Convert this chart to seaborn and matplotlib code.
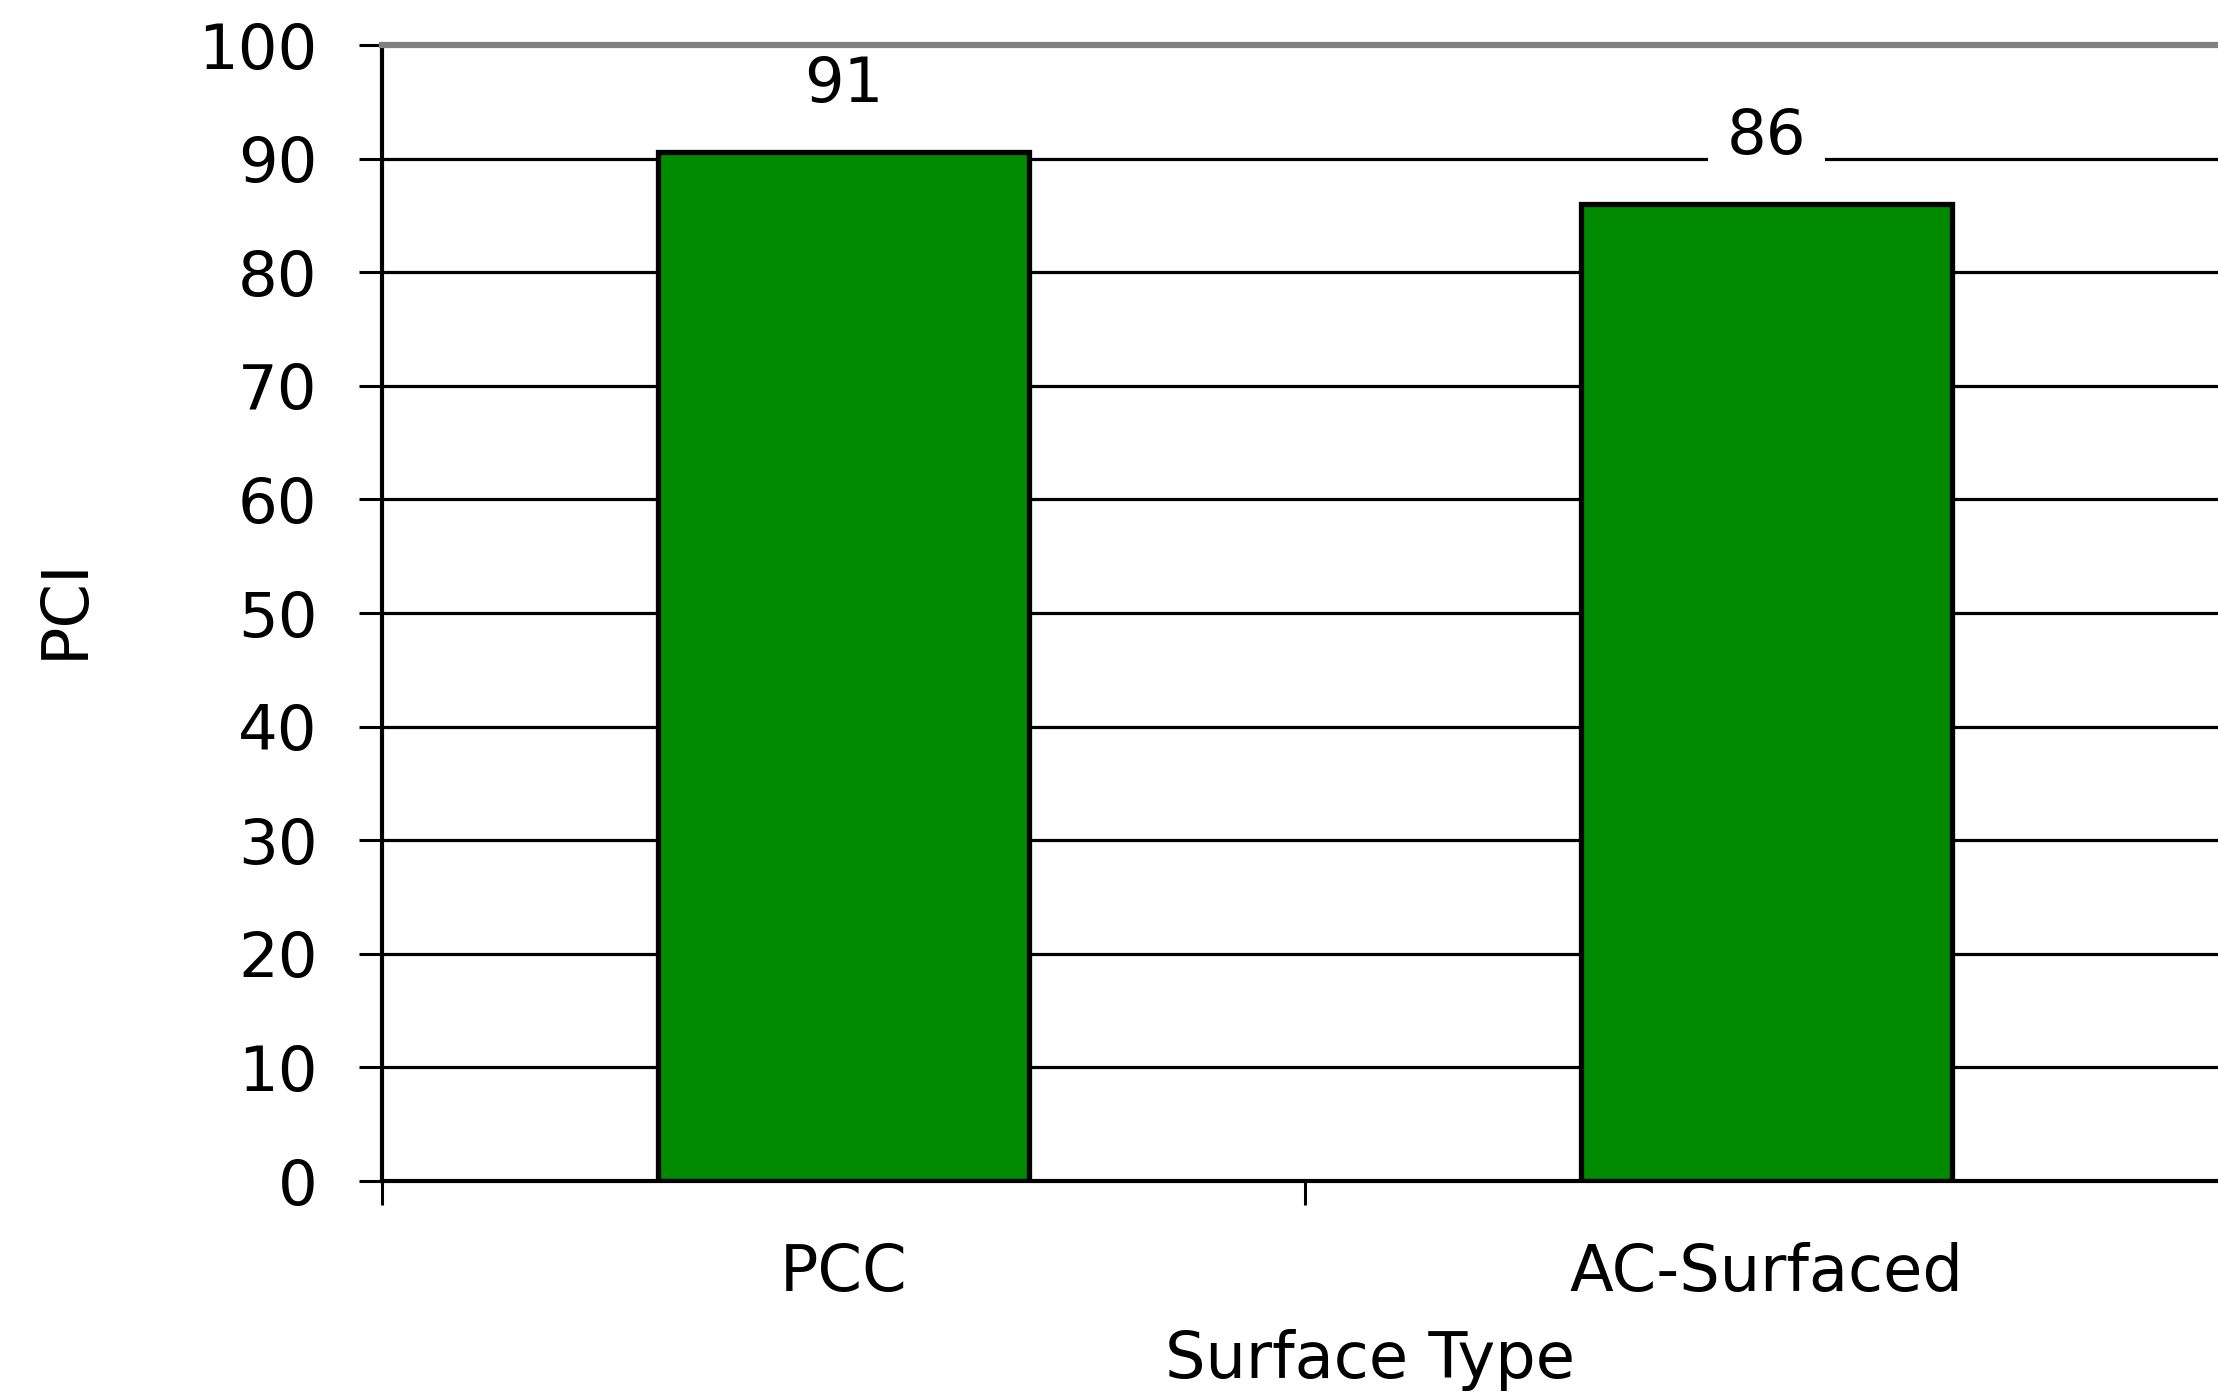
import matplotlib
matplotlib.use("Agg")
import matplotlib.pyplot as plt
import seaborn as sns
import pandas as pd
from matplotlib.ticker import FixedLocator

surface_types = ["PCC", "AC-Surfaced"]
pci_values = [90.6, 86.0]
value_labels = ["91", "86"]
y_ticks = list(range(0, 101, 10))

df = pd.DataFrame({"Surface Type": surface_types, "PCI": pci_values})

sns.set_theme(style="white")
plt.rcParams["font.family"] = ["DejaVu Sans"]

fig = plt.figure(figsize=(22.18, 13.98), dpi=100)
ax = fig.add_axes([382/2218, 1-1181/1398, (2228-382)/2218, (1181-45)/1398])

sns.barplot(data=df, x="Surface Type", y="PCI", color="#008a00", width=0.403,
            edgecolor="black", linewidth=3.8, saturation=1, ax=ax, zorder=3)

ax.set_xlim(-0.5, 1.5)
ax.set_ylim(0, 100)
ax.yaxis.set_major_locator(FixedLocator(y_ticks))
ax.grid(axis="y", color="black", linewidth=2.3, zorder=0)
ax.set_axisbelow(True)

ax.xaxis.set_minor_locator(FixedLocator([-0.5, 0.5, 1.5]))
ax.tick_params(axis="x", which="major", length=0, pad=44, labelsize=46, colors="black")
ax.tick_params(axis="x", which="minor", length=17, width=2.2, direction="out", color="black", bottom=True)
ax.tick_params(axis="y", which="major", length=16.5, width=2.2, direction="out", color="black",
               pad=30, labelsize=45, labelcolor="black", left=True)

for side in ["top", "right"]:
    ax.spines[side].set_color("#808080")
    ax.spines[side].set_linewidth(4.5)
    ax.spines[side].set_visible(True)
    ax.spines[side].set_zorder(10)
for side in ["left", "bottom"]:
    ax.spines[side].set_color("black")
    ax.spines[side].set_linewidth(3)
    ax.spines[side].set_visible(True)
    ax.spines[side].set_zorder(10)

ax.set_xlabel("Surface Type", fontsize=46, color="black")
ax.set_ylabel("PCI", fontsize=46, color="black")
ax.xaxis.label.set_va("center")
ax.yaxis.label.set_va("center")
ax.xaxis.set_label_coords(0.535, -0.158)
ax.yaxis.set_label_coords(-0.172, 0.504)

for bar, lab in zip(ax.patches, value_labels):
    ax.annotate(lab, (bar.get_x() + bar.get_width()/2, bar.get_height()),
                xytext=(0, 48), textcoords="offset points", ha="center", va="center",
                fontsize=45, color="black", zorder=5,
                bbox=dict(boxstyle="square,pad=0.3", fc="white", ec="none"))

fig.savefig("out.png", dpi=100)
